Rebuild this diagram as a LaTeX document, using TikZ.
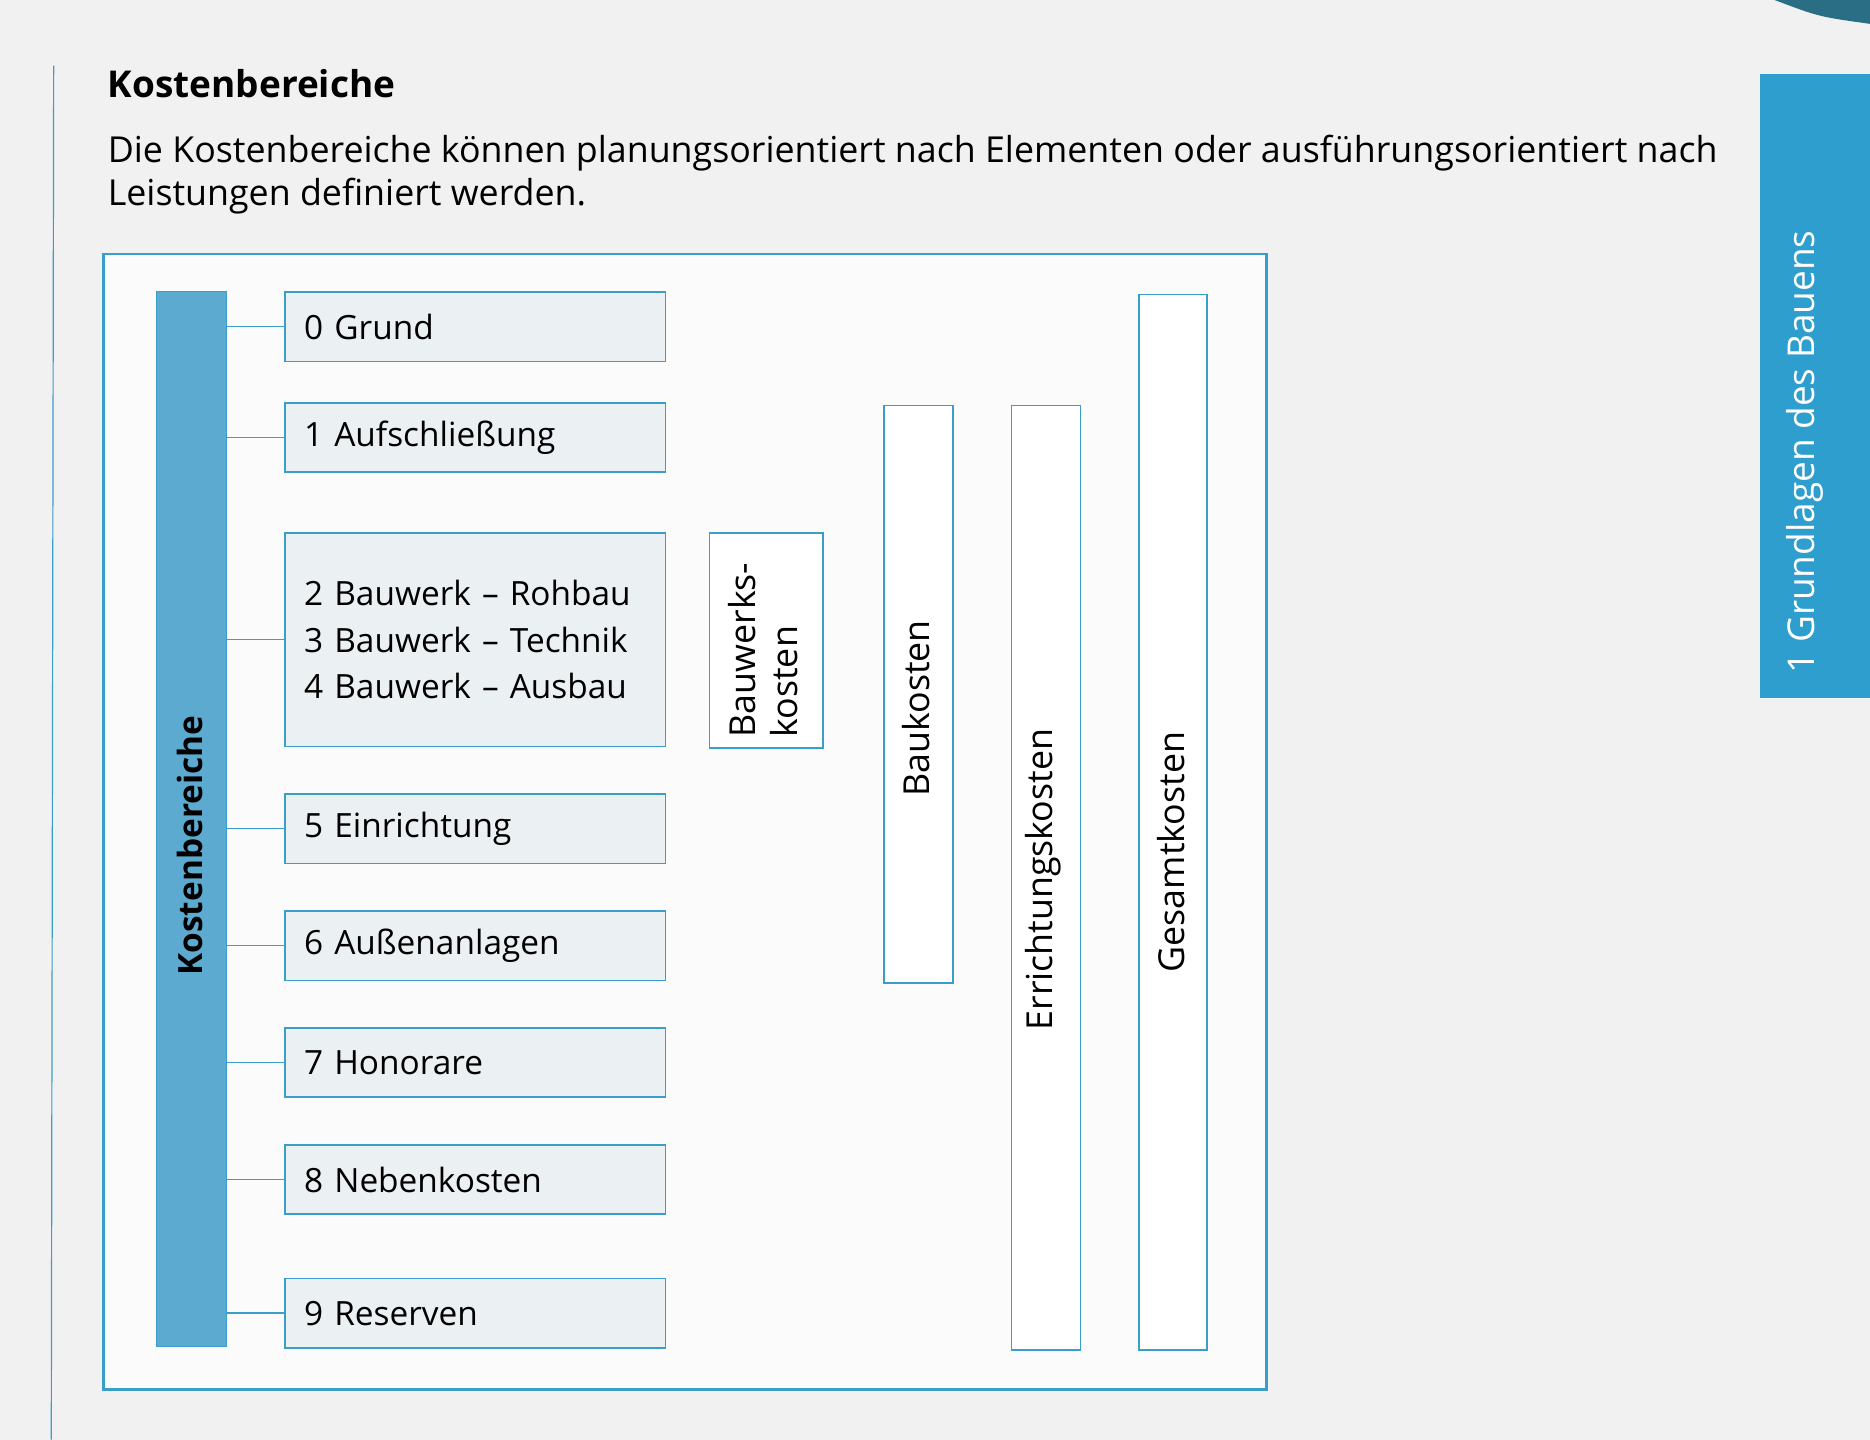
\documentclass[tikz,border=0pt]{standalone}
\usepackage{fontspec}
\setmainfont{Open Sans}
\usepackage{xcolor}
\definecolor{kblue}{HTML}{3A9FC8}
\definecolor{kbar}{HTML}{5DAAD0}
\definecolor{ktab}{HTML}{2E9ECF}
\definecolor{kdark}{HTML}{2A6E86}
\definecolor{kpaper}{HTML}{F1F1F1}
\definecolor{kfill}{HTML}{EBF0F3}
\tikzstyle{boxes} = [rectangle, draw=kblue, line width=0.7pt, fill=kfill, minimum width=159.5pt,
minimum height=29pt, text width=143.5pt, inner sep=0pt, align=left, font=\fontsize{14}{19.5}\selectfont]
\tikzstyle{tbox} = [rectangle, draw=kblue, line width=0.7pt, fill=white, inner sep=0pt]
\tikzstyle{vlabel} = [rotate=90, inner sep=0pt, font=\fontsize{15}{18}\selectfont]
\tikzstyle{line} = [kblue, line width=0.5pt]

\begin{document}
\begin{tikzpicture}[x=0.5pt, y=-0.5pt]
        \fill[kpaper] (0,0) rectangle (1568,1207);
        \useasboundingbox (0,0) rectangle (1568,1207);

        % page head
        \node[anchor=base west, inner sep=0pt, font=\bfseries\fontsize{15.5}{19}\selectfont] (title) at (90,82) {Kostenbereiche};
        \node[anchor=base west, inner sep=0pt, font=\fontsize{15}{18}\selectfont] (para1) at (90,136) {Die Kostenbereiche können planungsorientiert nach Elementen oder ausführungsorientiert nach};
        \node[anchor=base west, inner sep=0pt, font=\fontsize{15}{18}\selectfont] (para2) at (90,172) {Leistungen definiert werden.};
        \draw[kblue, line width=0.5pt] (45,55) -- (43,1207);
        \fill[kdark] (1488,0) .. controls (1525,14) .. (1568,20) -- (1568,0) -- cycle;
        \node[rectangle, fill=ktab, minimum width=46pt, minimum height=261.5pt, inner sep=0pt] (tab) at (1522,323.5) {};
        \node[vlabel, text=white, font=\fontsize{15.5}{18}\selectfont] (tabl) at (1513,379) {1 Grundlagen des Bauens};

        % frame
        \draw[kblue, line width=1.2pt, fill=white!75!kpaper] (87,213) rectangle (1062,1165);

        \node[rectangle, draw=kblue, fill=kbar, minimum width=29.5pt, minimum height=442.5pt, inner sep=0pt] (bar) at (160.5,686.5) {};
        \node[vlabel, font=\bfseries\fontsize{14}{17}\selectfont] (barl) at (159,709) {Kostenbereiche};

        \node[boxes] (grund) at (398.5,274) {0 Grund};
        \node[boxes] (auf) at (398.5,367) {1 Aufschließung};
        \node[boxes, minimum height=89.5pt] (bauwerk) at (398.5,536.5) {\mbox{2 Bauwerk – Rohbau}\\\mbox{3 Bauwerk – Technik}\\\mbox{4 Bauwerk – Ausbau}};
        \node[boxes] (einr) at (398.5,695) {5 Einrichtung};
        \node[boxes] (aussen) at (398.5,793) {6 Außenanlagen};
        \node[boxes] (hon) at (398.5,891) {7 Honorare};
        \node[boxes] (neben) at (398.5,989) {8 Nebenkosten};
        \node[boxes] (res) at (398.5,1101) {9 Reserven};

        \foreach \b in {grund,auf,bauwerk,einr,aussen,hon,neben,res}
            \draw[line] (bar.east |- \b.west) -- (\b.west);

        % cost groups
        \node[tbox, minimum width=47.5pt, minimum height=90pt] (bwk) at (642.5,537) {};
        \node[tbox, minimum width=29pt, minimum height=242pt] (bauk) at (770,582) {};
        \node[tbox, minimum width=29pt, minimum height=396pt] (err) at (877,736) {};
        \node[tbox, minimum width=28.5pt, minimum height=442.5pt] (ges) at (983.5,689.5) {};

        \node[vlabel, align=left, font=\fontsize{15}{17.5}\selectfont] (bwkl) at (640,545) {Bauwerks-\\kosten};
        \node[vlabel] (baukl) at (768,594) {Baukosten};
        \node[vlabel] (errl) at (875,737.5) {Errichtungskosten};
        \node[vlabel] (gesl) at (982,714.5) {Gesamtkosten};

    \end{tikzpicture}
\end{document}
